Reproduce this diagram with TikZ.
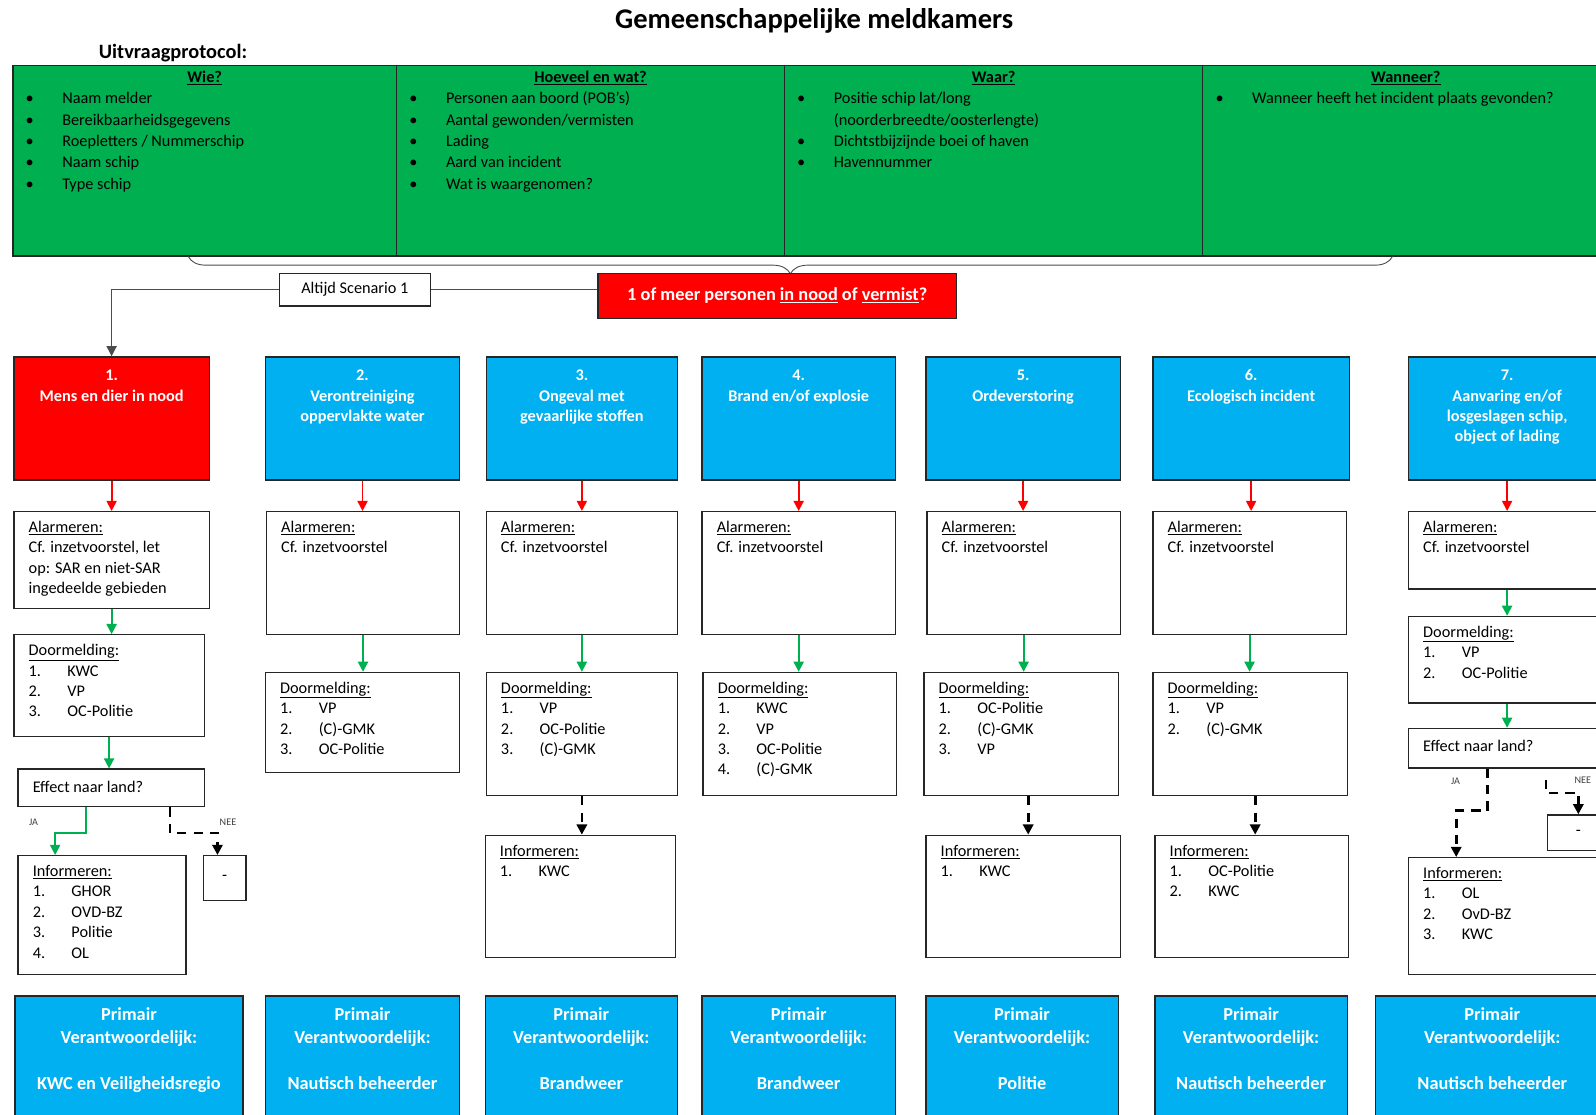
\documentclass[tikz,border=0pt]{standalone}
\usepackage{fontspec}
\setmainfont{Carlito}
\usetikzlibrary{arrows.meta,decorations.pathreplacing}
\definecolor{tablegreen}{HTML}{00B050}
\definecolor{scenblue}{HTML}{00B0F0}
\definecolor{alarmred}{HTML}{FF0000}
\newcommand{\bul}{\makebox[36pt][l]{\textbullet}}
\newcommand{\itm}[2]{\makebox[38pt][l]{#1}#2}
\tikzset{
  whitebox/.style={rectangle, draw=black!85, line width=1.3pt, fill=white, anchor=north west, inner sep=0pt},
  bluebox/.style={whitebox, fill=scenblue},
  redbox/.style={whitebox, fill=alarmred},
  greencell/.style={whitebox, fill=tablegreen},
  bodytext/.style={anchor=north west, inner sep=0pt, align=left, xshift=15pt, yshift=-7pt, font=\fontsize{16}{20}\selectfont},
  cellhead/.style={anchor=north, inner sep=0pt, yshift=-2pt, font=\fontsize{16}{21}\selectfont\bfseries},
  celltext/.style={anchor=north west, inner sep=0pt, align=left, xshift=13pt, yshift=-23pt, font=\fontsize{16}{21}\selectfont},
  headtext/.style={anchor=north, inner sep=0pt, align=center, yshift=-10pt, text=white, font=\fontsize{16}{20}\selectfont\bfseries},
  primtext/.style={anchor=north, inner sep=0pt, align=center, yshift=-9pt, text=white, font=\fontsize{18}{22.5}\selectfont\bfseries},
  redarrow/.style={draw=alarmred, line width=1.8pt, -{Triangle[length=10pt,width=10pt]}},
  greenarrow/.style={redarrow, draw=tablegreen},
  dasharrow/.style={draw=black, line width=2.6pt, dash pattern=on 9pt off 7pt, -{Triangle[length=10pt,width=10pt]}},
  tinylabel/.style={font=\fontsize{10}{11}\selectfont, text=black!75, inner sep=0pt},
}

\begin{document}
\begin{tikzpicture}[x=1pt, y=-1pt]
		\useasboundingbox (0,0) rectangle (1568,1095);
		\clip (0,0) rectangle (1568,1095);
		
		%%%%% TITLE %%%%%
		
		\node[font=\fontsize{28}{34}\selectfont\bfseries] (title) at (800,21) {Gemeenschappelijke meldkamers};
		\node[anchor=west, inner sep=0pt, font=\fontsize{20}{24}\selectfont\bfseries] (protocol) at (97,52) {Uitvraagprotocol:};
		
		%%%%% UITVRAAGPROTOCOL %%%%%
		
		\node[greencell, minimum width=377pt, minimum height=187pt] (c1) at (12,64) {};
		\node[greencell, minimum width=381pt, minimum height=187pt] (c2) at (389,64) {};
		\node[greencell, minimum width=411pt, minimum height=187pt] (c3) at (770,64) {};
		\node[greencell, minimum width=399pt, minimum height=187pt] (c4) at (1181,64) {};
		
		\node[cellhead] (h1) at (c1.north) {\strut\underline{Wie?}};
		\node[cellhead] (h2) at (c2.north) {\strut\underline{Hoeveel en wat?}};
		\node[cellhead] (h3) at (c3.north) {\strut\underline{Waar?}};
		\node[cellhead] (h4) at (c4.north) {\strut\underline{Wanneer?}};
		
		\node[celltext] (l1) at (c1.north west) {\strut\bul Naam melder\\\bul Bereikbaarheidsgegevens\\\bul Roepletters / Nummerschip\\\bul Naam schip\\\bul Type schip};
		\node[celltext] (l2) at (c2.north west) {\strut\bul Personen aan boord (POB’s)\\\bul Aantal gewonden/vermisten\\\bul Lading\\\bul Aard van incident\\\bul Wat is waargenomen?};
		\node[celltext] (l3) at (c3.north west) {\strut\bul Positie schip lat/long\\\hspace*{36pt}(noorderbreedte/oosterlengte)\\\bul Dichtstbijzijnde boei of haven\\\bul Havennummer};
		\node[celltext] (l4) at (c4.north west) {\strut\bul Wanneer heeft het incident plaats gevonden?};
		
		\draw[decorate, decoration={brace, mirror, amplitude=17pt}, line width=0.9pt, black!70] (185,252) -- (1368,252);
		
		%%%%% VRAAG %%%%%
		
		\node[redbox, minimum width=352pt, minimum height=44pt, text=white, font=\fontsize{18}{22}\selectfont\bfseries] (vraag) at (587,268) {1 of meer personen \underline{in nood} of \underline{vermist}?};
		\node[whitebox, minimum width=148pt, minimum height=32pt, font=\fontsize{16}{20}\selectfont] (altijd) at (274,268) {Altijd Scenario 1};
		
		%%%%% SCENARIO'S %%%%%
		
		\node[redbox, minimum width=192pt, minimum height=121pt] (s1) at (13,350) {};
		\node[bluebox, minimum width=191pt, minimum height=121pt] (s2) at (260,350) {};
		\node[bluebox, minimum width=188pt, minimum height=121pt] (s3) at (477,350) {};
		\node[bluebox, minimum width=190pt, minimum height=121pt] (s4) at (689,350) {};
		\node[bluebox, minimum width=191pt, minimum height=121pt] (s5) at (909,350) {};
		\node[bluebox, minimum width=193pt, minimum height=121pt] (s6) at (1132,350) {};
		\node[bluebox, minimum width=194pt, minimum height=121pt] (s7) at (1383,350) {};
		
		\node[headtext] (s1t) at (s1.north) {\strut 1.\\Mens en dier in nood};
		\node[headtext] (s2t) at (s2.north) {\strut 2.\\Verontreiniging\\oppervlakte water};
		\node[headtext] (s3t) at (s3.north) {\strut 3.\\Ongeval met\\gevaarlijke stoffen};
		\node[headtext] (s4t) at (s4.north) {\strut 4.\\Brand en/of explosie};
		\node[headtext] (s5t) at (s5.north) {\strut 5.\\Ordeverstoring};
		\node[headtext] (s6t) at (s6.north) {\strut 6.\\Ecologisch incident};
		\node[headtext] (s7t) at (s7.north) {\strut 7.\\Aanvaring en/of\\losgeslagen schip,\\object of lading};
		
		\draw[line width=1.3pt, black!70] (altijd.east) -- (altijd.east -| vraag.west);
		\draw[line width=1.3pt, black!70, -{Triangle[length=10pt,width=10pt]}] (altijd.west) -| (s1.north);
		
		%%%%% ALARMEREN %%%%%
		
		\node[whitebox, minimum width=192pt, minimum height=95pt] (a1) at (13,502) {};
		\node[whitebox, minimum width=190pt, minimum height=121pt] (a2) at (261,502) {};
		\node[whitebox, minimum width=188pt, minimum height=121pt] (a3) at (477,502) {};
		\node[whitebox, minimum width=190pt, minimum height=121pt] (a4) at (689,502) {};
		\node[whitebox, minimum width=190pt, minimum height=121pt] (a5) at (910,502) {};
		\node[whitebox, minimum width=190pt, minimum height=121pt] (a6) at (1132,502) {};
		\node[whitebox, minimum width=194pt, minimum height=76pt] (a7) at (1383,502) {};
		
		\node[bodytext] (a1t) at (a1.north west) {\strut\underline{Alarmeren:}\\Cf. inzetvoorstel, let\\op: SAR en niet-SAR\\ingedeelde gebieden};
		\node[bodytext] (a2t) at (a2.north west) {\strut\underline{Alarmeren:}\\Cf. inzetvoorstel};
		\node[bodytext] (a3t) at (a3.north west) {\strut\underline{Alarmeren:}\\Cf. inzetvoorstel};
		\node[bodytext] (a4t) at (a4.north west) {\strut\underline{Alarmeren:}\\Cf. inzetvoorstel};
		\node[bodytext] (a5t) at (a5.north west) {\strut\underline{Alarmeren:}\\Cf. inzetvoorstel};
		\node[bodytext] (a6t) at (a6.north west) {\strut\underline{Alarmeren:}\\Cf. inzetvoorstel};
		\node[bodytext] (a7t) at (a7.north west) {\strut\underline{Alarmeren:}\\Cf. inzetvoorstel};
		
		\draw[redarrow] (s1.south) -- (s1.south |- a1.north);
		\draw[redarrow] (s2.south) -- (s2.south |- a2.north);
		\draw[redarrow] (s3.south) -- (s3.south |- a3.north);
		\draw[redarrow] (s4.south) -- (s4.south |- a4.north);
		\draw[redarrow] (s5.south) -- (s5.south |- a5.north);
		\draw[redarrow] (s6.south) -- (s6.south |- a6.north);
		\draw[redarrow] (s7.south) -- (s7.south |- a7.north);
		
		%%%%% DOORMELDING %%%%%
		
		\node[whitebox, minimum width=187pt, minimum height=100pt] (d1) at (13,623) {};
		\node[whitebox, minimum width=191pt, minimum height=98pt] (d2) at (260,660) {};
		\node[whitebox, minimum width=188pt, minimum height=121pt] (d3) at (477,660) {};
		\node[whitebox, minimum width=190pt, minimum height=121pt] (d4) at (690,660) {};
		\node[whitebox, minimum width=191pt, minimum height=121pt] (d5) at (907,660) {};
		\node[whitebox, minimum width=191pt, minimum height=121pt] (d6) at (1132,660) {};
		\node[whitebox, minimum width=194pt, minimum height=85pt] (d7) at (1383,605) {};
		
		\node[bodytext] (d1t) at (d1.north west) {\strut\underline{Doormelding:}\\\itm{1.}{KWC}\\\itm{2.}{VP}\\\itm{3.}{OC-Politie}};
		\node[bodytext] (d2t) at (d2.north west) {\strut\underline{Doormelding:}\\\itm{1.}{VP}\\\itm{2.}{(C)-GMK}\\\itm{3.}{OC-Politie}};
		\node[bodytext] (d3t) at (d3.north west) {\strut\underline{Doormelding:}\\\itm{1.}{VP}\\\itm{2.}{OC-Politie}\\\itm{3.}{(C)-GMK}};
		\node[bodytext] (d4t) at (d4.north west) {\strut\underline{Doormelding:}\\\itm{1.}{KWC}\\\itm{2.}{VP}\\\itm{3.}{OC-Politie}\\\itm{4.}{(C)-GMK}};
		\node[bodytext] (d5t) at (d5.north west) {\strut\underline{Doormelding:}\\\itm{1.}{OC-Politie}\\\itm{2.}{(C)-GMK}\\\itm{3.}{VP}};
		\node[bodytext] (d6t) at (d6.north west) {\strut\underline{Doormelding:}\\\itm{1.}{VP}\\\itm{2.}{(C)-GMK}};
		\node[bodytext] (d7t) at (d7.north west) {\strut\underline{Doormelding:}\\\itm{1.}{VP}\\\itm{2.}{OC-Politie}};
		
		\draw[greenarrow] (a1.south) -- (a1.south |- d1.north);
		\draw[greenarrow] (a2.south) -- (a2.south |- d2.north);
		\draw[greenarrow] (a3.south) -- (a3.south |- d3.north);
		\draw[greenarrow] (a4.south) -- (a4.south |- d4.north);
		\draw[greenarrow] (a5.south) -- (a5.south |- d5.north);
		\draw[greenarrow] (a6.south) -- (a6.south |- d6.north);
		\draw[greenarrow] (a7.south) -- (a7.south |- d7.north);
		
		%%%%% EFFECT NAAR LAND %%%%%
		
		\node[whitebox, minimum width=183pt, minimum height=37pt] (e1) at (17,755) {};
		\node[whitebox, minimum width=194pt, minimum height=39pt] (e7) at (1383,715) {};
		\node[bodytext, yshift=-2pt] (e1t) at (e1.north west) {\strut Effect naar land?};
		\node[bodytext, yshift=-2pt] (e7t) at (e7.north west) {\strut Effect naar land?};
		
		\draw[greenarrow] (d1.south) -- (d1.south |- e1.north);
		\draw[greenarrow] (d7.south) -- (d7.south |- e7.north);
		
		\node[whitebox, minimum width=42pt, minimum height=44pt, font=\fontsize{16}{20}\selectfont] (dash1) at (199,840) {-};
		\node[whitebox, minimum width=60pt, minimum height=35pt, font=\fontsize{16}{20}\selectfont] (dash7) at (1520,800) {-};
		
		%%%%% INFORMEREN %%%%%
		
		\node[whitebox, minimum width=165pt, minimum height=117pt] (i1) at (17,840) {};
		\node[whitebox, minimum width=187pt, minimum height=120pt] (i3) at (476,820) {};
		\node[whitebox, minimum width=191pt, minimum height=120pt] (i5) at (909,820) {};
		\node[whitebox, minimum width=190pt, minimum height=120pt] (i6) at (1134,820) {};
		\node[whitebox, minimum width=194pt, minimum height=115pt] (i7) at (1383,842) {};
		
		\node[bodytext] (i1t) at (i1.north west) {\strut\underline{Informeren:}\\\itm{1.}{GHOR}\\\itm{2.}{OVD-BZ}\\\itm{3.}{Politie}\\\itm{4.}{OL}};
		\node[bodytext] (i3t) at (i3.north west) {\strut\underline{Informeren:}\\\itm{1.}{KWC}};
		\node[bodytext] (i5t) at (i5.north west) {\strut\underline{Informeren:}\\\itm{1.}{KWC}};
		\node[bodytext] (i6t) at (i6.north west) {\strut\underline{Informeren:}\\\itm{1.}{OC-Politie}\\\itm{2.}{KWC}};
		\node[bodytext] (i7t) at (i7.north west) {\strut\underline{Informeren:}\\\itm{1.}{OL}\\\itm{2.}{OvD-BZ}\\\itm{3.}{KWC}};
		
		\draw[greenarrow] ([xshift=-25pt]e1.south) -- ++(0,25) -| ([xshift=-46pt]i1.north);
		\draw[dasharrow] ([xshift=58pt]e1.south) -- ++(0,25) -| ([xshift=-7pt]dash1.north);
		\node[tinylabel] (ja1) at (33,808) {JA};
		\node[tinylabel] (nee1) at (224,808) {NEE};
		
		\coordinate (nee7) at (1519,766);
		\draw[dasharrow] ([xshift=-19pt]e7.south) -- ++(0,41) -| ([xshift=-50pt]i7.north);
		\draw[dasharrow] (nee7) -- ++(0,13) -| (dash7.north);
		\node[tinylabel] (ja7) at (1430,768) {JA};
		\node[tinylabel] (nee7l) at (1555,767) {NEE};
		
		\draw[dasharrow] (d3.south) -- (d3.south |- i3.north);
		\draw[dasharrow] ([xshift=7pt]d5.south) -- ([xshift=7pt]d5.south |- i5.north);
		\draw[dasharrow] ([xshift=5pt]d6.south) -- ([xshift=5pt]d6.south |- i6.north);
		
		%%%%% PRIMAIR VERANTWOORDELIJK %%%%%
		
		\node[bluebox, minimum width=224pt, minimum height=140pt] (p1) at (14,978) {};
		\node[bluebox, minimum width=191pt, minimum height=140pt] (p2) at (260,978) {};
		\node[bluebox, minimum width=189pt, minimum height=140pt] (p3) at (476,978) {};
		\node[bluebox, minimum width=190pt, minimum height=140pt] (p4) at (689,978) {};
		\node[bluebox, minimum width=189pt, minimum height=140pt] (p5) at (909,978) {};
		\node[bluebox, minimum width=189pt, minimum height=140pt] (p6) at (1134,978) {};
		\node[bluebox, minimum width=229pt, minimum height=140pt] (p7) at (1351,978) {};
		
		\node[primtext] (p1t) at (p1.north) {\strut Primair\\Verantwoordelijk:\\[22.5pt]KWC en Veiligheidsregio};
		\node[primtext] (p2t) at (p2.north) {\strut Primair\\Verantwoordelijk:\\[22.5pt]Nautisch beheerder};
		\node[primtext] (p3t) at (p3.north) {\strut Primair\\Verantwoordelijk:\\[22.5pt]Brandweer};
		\node[primtext] (p4t) at (p4.north) {\strut Primair\\Verantwoordelijk:\\[22.5pt]Brandweer};
		\node[primtext] (p5t) at (p5.north) {\strut Primair\\Verantwoordelijk:\\[22.5pt]Politie};
		\node[primtext] (p6t) at (p6.north) {\strut Primair\\Verantwoordelijk:\\[22.5pt]Nautisch beheerder};
		\node[primtext] (p7t) at (p7.north) {\strut Primair\\Verantwoordelijk:\\[22.5pt]Nautisch beheerder};
		
		%%%%% END %%%%%
\end{tikzpicture}
\end{document}
